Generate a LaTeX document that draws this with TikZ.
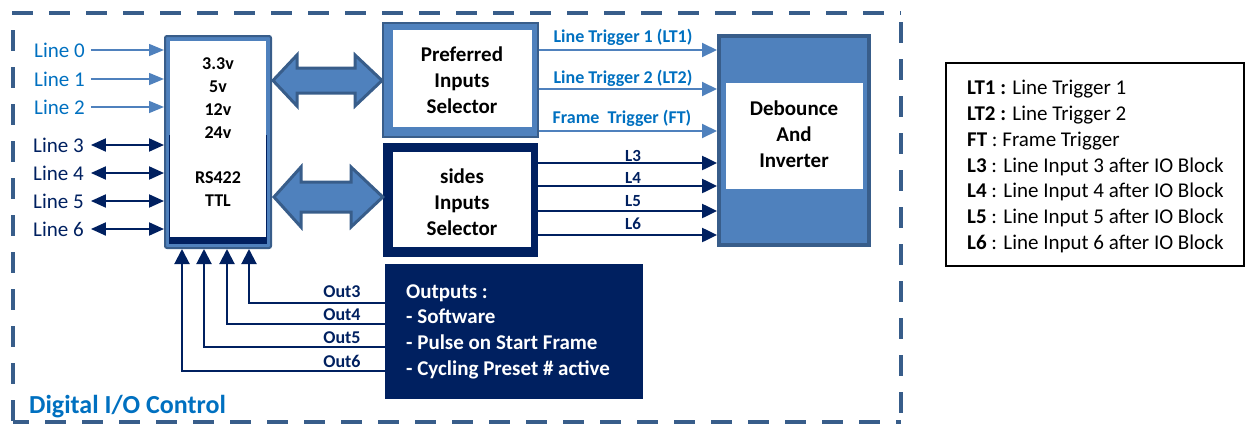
\documentclass[tikz,border=0pt]{standalone}
\usepackage{fontspec}
\setmainfont{Carlito}
\usetikzlibrary{arrows.meta,calc}
\definecolor{lblue}{HTML}{4F81BD}
\definecolor{dblue}{HTML}{385D8A}
\definecolor{navy}{HTML}{002060}
\definecolor{tblue}{HTML}{0070C0}
\begin{document}
\begin{tikzpicture}[x=1pt,y=-1pt,
  frameline/.style={draw=dblue, line width=4pt, dash pattern=on 21pt off 16pt},
  inarrow/.style={draw=lblue, line width=1.5pt, -{Triangle[length=15pt,width=12pt]}},
  bidir/.style={draw=navy, line width=2pt, {Triangle[length=15pt,width=13pt]}-{Triangle[length=15pt,width=13pt]}},
  trig/.style={draw=lblue, line width=2pt, -{Triangle[length=15pt,width=14pt]}},
  sig/.style={draw=navy, line width=2.5pt, -{Triangle[length=15pt,width=14pt]}},
  outarr/.style={draw=navy, line width=2pt, -{Triangle[length=15pt,width=15pt]}},
  linelbl/.style={inner sep=0, anchor=west, font=\fontsize{21}{25}\selectfont},
  blocktxt/.style={inner sep=0, align=center, font=\fontsize{21}{26}\selectfont\bfseries},
  iotxt/.style={inner sep=0, align=center, font=\fontsize{18}{23}\selectfont\bfseries},
  triglbl/.style={inner sep=0, text=tblue, font=\fontsize{18}{22}\selectfont\bfseries},
  siglbl/.style={inner sep=0, text=navy, font=\fontsize{17}{20}\selectfont\bfseries},
  outlbl/.style={inner sep=0, text=navy, font=\fontsize{18}{22}\selectfont\bfseries},
  fatarrow/.style={fill=lblue, draw=dblue, line width=3pt, line join=miter},
  box/.style={inner sep=0, rectangle}
]
\useasboundingbox (0,0) rectangle (1247,423);

% dashed frame
\draw[frameline] (12,13) -- (901,13);
\draw[frameline] (13,30) -- (13,423);
\draw[frameline] (901,22) -- (901,423);
\draw[frameline, dash phase=5pt] (13,422) -- (901,422);
\node[inner sep=0, anchor=west, text=tblue, font=\fontsize{26}{30}\selectfont\bfseries] (title) at (29,406.5) {Digital I/O Control};

% IO block
\node[box, draw=dblue, line width=2pt, fill=lblue, rounded corners=2pt, minimum width=106pt, minimum height=212pt] (io) at (218,142) {};
\fill[navy] (169,135) rectangle (267,244);
\fill[white] (170,41) rectangle (266,237);
\node[iotxt] (volt) at (218,98.5) {3.3v\\5v\\12v\\24v};
\node[iotxt] (rs) at (218,189) {RS422\\TTL};

% line labels
\node[linelbl, text=tblue] (l0) at (34,50) {Line 0};
\node[linelbl, text=tblue] (l1) at (34,79) {Line 1};
\node[linelbl, text=tblue] (l2) at (34,107) {Line 2};
\node[linelbl, text=navy] (l3) at (33,145) {Line 3};
\node[linelbl, text=navy] (l4) at (33,173) {Line 4};
\node[linelbl, text=navy] (l5) at (33,201) {Line 5};
\node[linelbl, text=navy] (l6) at (33,229) {Line 6};
\foreach \n in {l0,l1,l2}{
  \draw[inarrow, shorten <=6pt] (\n.east) -- (io.west |- \n.east);
}
\foreach \n in {l3,l4,l5,l6}{
  \draw[bidir, shorten <=7pt] (\n.east) -- (io.west |- \n.east);
}

% preferred inputs selector
\node[box, draw=dblue, line width=2pt, fill=lblue, minimum width=155pt, minimum height=114pt] (psel) at (460.5,80) {};
\fill[white] (393,30) rectangle (532,127);
\node[blocktxt] (pseltxt) at (462,80) {Preferred\\Inputs\\Selector};

% sides inputs selector
\node[box, fill=navy, minimum width=155pt, minimum height=114pt] (ssel) at (460.5,200) {};
\fill[white] (393,152) rectangle (531,247);
\node[blocktxt] (sseltxt) at (462,202) {sides\\Inputs\\Selector};

% fat double arrows
\filldraw[fatarrow] (io.east |- 0,80.5) ++(1,0) -- (297,55) -- (297,68) -- (355,68) -- (355,55) -- (psel.west |- 0,80.5) -- (355,106) -- (355,93) -- (297,93) -- (297,106) -- cycle;
\filldraw[fatarrow] (io.east |- 0,197) ++(2,0) -- (301,167) -- (301,182) -- (351,182) -- (351,167) -- (ssel.west |- 0,197) -- (351,227) -- (351,212) -- (301,212) -- (301,227) -- cycle;

% debounce block
\node[box, draw=dblue, line width=4pt, fill=lblue, minimum width=150pt, minimum height=209pt] (deb) at (794,140.5) {};
\fill[white] (726,83) rectangle (863,189);
\node[blocktxt] (debtxt) at (794,134) {Debounce\\And\\Inverter};

% trigger arrows
\draw[trig] (psel.east |- 0,50) -- (deb.west |- 0,50);
\draw[trig] (psel.east |- 0,89) -- (deb.west |- 0,89);
\draw[trig] (psel.east |- 0,131) -- (deb.west |- 0,131);
\node[triglbl] (lt1) at (623,37) {Line Trigger 1 (LT1)};
\node[triglbl] (lt2) at (623,78) {Line Trigger 2 (LT2)};
\node[triglbl] (ft) at (622,118) {Frame\ \ Trigger (FT)};

% L3..L6 arrows
\draw[sig] (ssel.east |- 0,163) -- (deb.west |- 0,163);
\draw[sig] (ssel.east |- 0,186) -- (deb.west |- 0,186);
\draw[sig] (ssel.east |- 0,211) -- (deb.west |- 0,211);
\draw[sig] (ssel.east |- 0,235) -- (deb.west |- 0,235);
\node[siglbl] (s3) at (633,156) {L3};
\node[siglbl] (s4) at (633,178) {L4};
\node[siglbl] (s5) at (633,201) {L5};
\node[siglbl] (s6) at (633,224) {L6};

% outputs box
\node[box, fill=navy, minimum width=258pt, minimum height=135pt] (out) at (514,331.5) {};
\node[inner sep=0, anchor=west, align=left, text=white, font=\fontsize{21}{25.7}\selectfont\bfseries] (outtxt) at (406,331.5) {Outputs :\\- Software\\- Pulse on Start Frame\\- Cycling Preset \# active};

% output arrows
\draw[outarr] (out.west |- 0,303) -| (249,0 |- io.south);
\draw[outarr] (out.west |- 0,324) -| (227,0 |- io.south);
\draw[outarr] (out.west |- 0,347) -| (204,0 |- io.south);
\draw[outarr] (out.west |- 0,371) -| (182,0 |- io.south);
\node[outlbl] (o3) at (342,292) {Out3};
\node[outlbl] (o4) at (342,315) {Out4};
\node[outlbl] (o5) at (342,338) {Out5};
\node[outlbl] (o6) at (342,361) {Out6};

% legend
\node[box, draw=black, line width=1.5pt, minimum width=298pt, minimum height=203pt] (legend) at (1095,164.5) {};
\node[inner sep=0, anchor=west, align=left, font=\fontsize{21}{25.7}\selectfont] (legtxt) at (967,166.5) {%
\textbf{LT1 :} Line Trigger 1\\
\textbf{LT2 :} Line Trigger 2\\
\textbf{FT} : Frame Trigger\\
\textbf{L3} : Line Input 3 after IO Block\\
\textbf{L4} : Line Input 4 after IO Block\\
\textbf{L5} : Line Input 5 after IO Block\\
\textbf{L6} : Line Input 6 after IO Block};
\end{tikzpicture}
\end{document}
